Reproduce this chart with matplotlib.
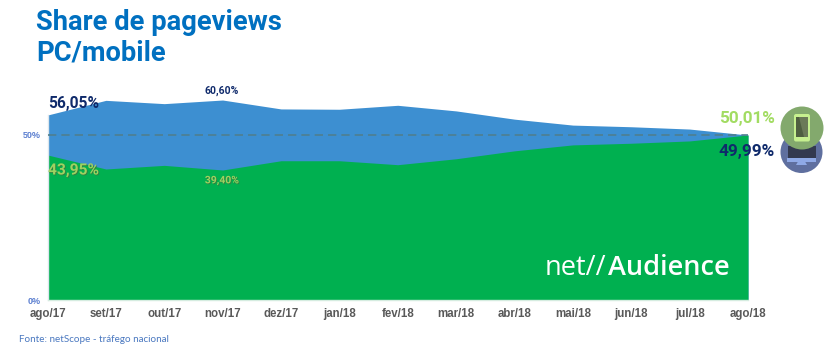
import matplotlib
matplotlib.use('Agg')
import matplotlib.pyplot as plt
from matplotlib.patches import Circle, Rectangle, FancyBboxPatch, Polygon
import matplotlib.patheffects as pe

months = ['ago/17','set/17','out/17','nov/17','dez/17','jan/18','fev/18','mar/18','abr/18','mai/18','jun/18','jul/18','ago/18']
pc = [56.05,60.5,59.5,60.60,57.9,57.8,59.0,57.3,54.8,53.0,52.5,51.8,49.99]
mobile = [43.95,39.7,40.8,39.40,42.2,42.2,41.0,42.8,45.2,47.0,47.5,48.2,50.01]
yticks = [0, 50]
ytick_labels = ['0%', '50%']
title_lines = ['Share de pageviews', 'PC/mobile']
source = 'Fonte: netScope - tráfego nacional'

W, H = 839, 351
plt.rcParams['font.family'] = ['Liberation Sans', 'DejaVu Sans']
fig = plt.figure(figsize=(W/100, H/100), dpi=100)

def fx(x): return x / W
def fy(y): return 1 - y / H

x0, x1, ybot = 47.5, 748, 300
ytop = 300 - 3.3 * 70
ax = fig.add_axes([fx(x0), fy(ybot), fx(x1) - fx(x0), (ybot - ytop) / H])
xs = list(range(len(months)))
ax.fill_between(xs, 0, pc, color='#3d8fd1', lw=0, zorder=1)
ax.fill_between(xs, 0, mobile, color='#00b050', lw=0, zorder=2)
ax.axhline(50, color='#4f7f8f', lw=1.2, ls=(0, (5, 3)), zorder=3)
ax.set_xlim(0, len(months) - 1)
ax.set_ylim(0, 70)
ax.patch.set_alpha(0)
for s in ['top', 'right']:
    ax.spines[s].set_visible(False)
ax.spines['left'].set_color('#dce6ee')
ax.spines['bottom'].set_color('#d5ece0')
ax.spines['left'].set_linewidth(1)
ax.spines['bottom'].set_linewidth(1)
ax.spines['left'].set_bounds(0, pc[0])
ax.set_xticks(xs, months, fontsize=8.3, fontweight='bold', color='#595959')
ax.set_yticks(yticks, ytick_labels, fontsize=6.5, fontweight='bold', color='#5b7fd0')
ax.tick_params(length=0, axis='x', pad=6)
ax.tick_params(length=0, axis='y', pad=5)

def ftext(x, y, s, **kw):
    kw.setdefault('va', 'center')
    kw.setdefault('ha', 'left')
    return fig.text(fx(x), fy(y), s, **kw)

num = ['Roboto', 'Liberation Sans']
ftext(36, 23, title_lines[0], fontsize=19.7, fontweight='bold', color='#0070c0', family=num)
ftext(36, 53, title_lines[1], fontsize=19.7, fontweight='bold', color='#0070c0', family=num)

navy = '#0f2a6b'
lime = '#9fd160'
shadow = [pe.withSimplePatchShadow(offset=(0.6, -0.6), shadow_rgbFace='#4a6a3a', alpha=0.7)]
ftext(48, 103.5, '56,05%', fontsize=11.2, fontweight='bold', color=navy, family=num)
ftext(48, 170, '43,95%', fontsize=11.2, fontweight='bold', color=lime, family=num, path_effects=shadow, zorder=5)
ftext(222, 91, '60,60%', fontsize=7.5, fontweight='bold', color=navy, ha='center', family=num)
ftext(222, 180.5, '39,40%', fontsize=7.5, fontweight='bold', color=lime, ha='center', family=num, path_effects=shadow, zorder=5)
ftext(775, 118, '50,01%', fontsize=12.3, fontweight='bold', color='#a2dc62', ha='right', family=num)
ftext(775, 152, '49,99%', fontsize=12.3, fontweight='bold', color=navy, ha='right', family=num)

ftext(545, 268, 'net//', fontsize=19.5, color='white', family=['Open Sans'], zorder=6)
ftext(730, 268, 'Audience', fontsize=19.5, color='white', family=['Open Sans'], fontweight='semibold', ha='right', zorder=6)
ftext(19, 339, source, fontsize=7.1, color='#4a78c0', family=['Lato'])

# device icons, in pixel space over the whole figure
ov = fig.add_axes([0, 0, 1, 1], zorder=10)
ov.set_xlim(0, W); ov.set_ylim(H, 0); ov.axis('off'); ov.patch.set_alpha(0)
ov.add_patch(Circle((801.5, 152), 21, color='#5f6f9f', lw=0))
ov.add_patch(Rectangle((787.5, 146), 28, 12, color='#33394f', lw=0))
ov.add_patch(Rectangle((787, 157.5), 29, 4, color='#8fa9e6', lw=0))
ov.add_patch(Polygon([(798, 161.5), (805, 161.5), (807, 165), (796, 165)], color='#8fa9e6', lw=0))
ov.add_patch(Circle((802, 128), 21.5, color='#83a96d', lw=0))
ov.add_patch(FancyBboxPatch((795, 115), 14, 25.5, boxstyle='round,pad=1,rounding_size=2', fc='#c6f08f', ec='none'))
ov.add_patch(Rectangle((796, 117), 12, 19.5, color='#4f5f40', lw=0))
ov.add_patch(Polygon([(799, 117), (808, 117), (808, 136.5), (804, 136.5)], color='#6b7a58', lw=0))

fig.savefig('out.png', dpi=100, facecolor='white')
